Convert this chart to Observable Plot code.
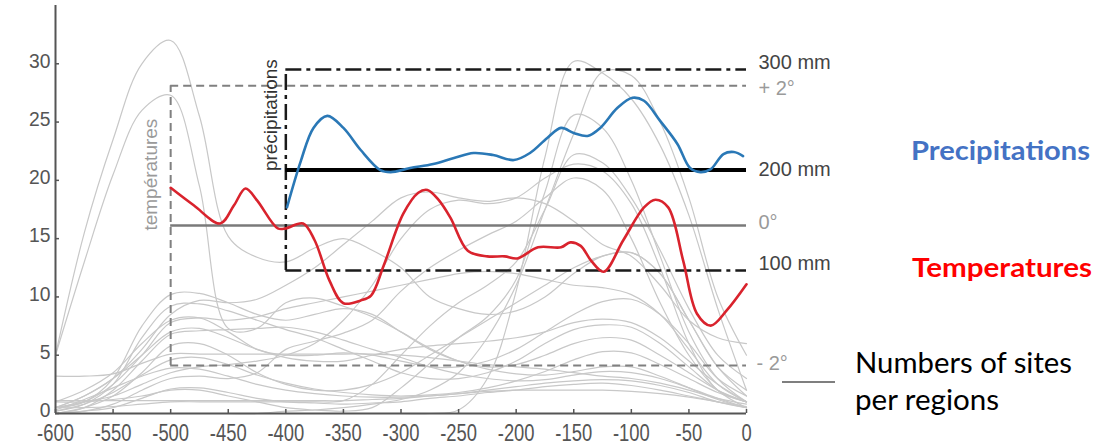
<!DOCTYPE html>
<html>
<head>
<meta charset="utf-8">
<script src="https://cdn.jsdelivr.net/npm/d3@7"></script>
<script src="https://cdn.jsdelivr.net/npm/@observablehq/plot@0.6"></script>
<style>
  body { margin: 0; background: #fff; }
  #wrap { position: relative; width: 1099px; height: 448px; overflow: hidden; }
  #overlay { position: absolute; left: 0; top: 0; pointer-events: none; }
</style>
</head>
<body>
<div id="wrap">
  <div id="chart"></div>
  <svg id="overlay" width="1099" height="448">
    <text x="911" y="160" fill="#4472c4" font-family="Lato, 'Open Sans', sans-serif" font-weight="bold" font-size="26" textLength="179" lengthAdjust="spacingAndGlyphs">Precipitations</text>
    <text x="912" y="277" fill="#ff0000" font-family="Lato, 'Open Sans', sans-serif" font-weight="bold" font-size="26" textLength="180" lengthAdjust="spacingAndGlyphs">Temperatures</text>
    <text x="855" y="373" fill="#000" font-family="Lato, 'Open Sans', sans-serif" font-size="28" textLength="217" lengthAdjust="spacingAndGlyphs">Numbers of sites</text>
    <text x="855" y="410" fill="#000" font-family="Lato, 'Open Sans', sans-serif" font-size="28" textLength="144" lengthAdjust="spacingAndGlyphs">per regions</text>
    <line x1="782" x2="835" y1="382" y2="382" stroke="#000" stroke-width="1.2"></line>
  </svg>
</div>
<script>
// ---------- data ----------
const xTicks = [-600, -550, -500, -450, -400, -350, -300, -250, -200, -150, -100, -50, 0];
const yTicks = [0, 5, 10, 15, 20, 25, 30];

// number of sites per region (grey curves), sampled every 25 years
const siteYears = [-600,-575,-550,-525,-500,-475,-450,-425,-400,-375,-350,-325,-300,-275,-250,-225,-200,-175,-150,-125,-100,-75,-50,-25,0];
const siteCounts = [
  [5, 15.5, 23.5, 30, 32, 25.5, 15.2, 13.4, 13, 14.2, 15, 14, 12.5, 10, 9, 8.5, 8.8, 10, 12, 13.5, 13.8, 12, 8, 4, 2],
  [5, 13, 20.5, 26, 27.3, 19.5, 7.3, 7.3, 9.5, 9.9, 9.2, 8.3, 7, 5.6, 4.5, 3.8, 3.4, 3.3, 3.6, 4, 4, 3.2, 2.2, 1.2, 0.5],
  [0, 0, 0, 0, 0, 0, 0, 0, 0, 0, 0, 0, 0, 0, 0.3, 3, 10.5, 22, 30.2, 29.2, 27, 23, 17, 9, 2],
  [1, 1, 1.2, 1.5, 2, 2, 1.5, 1, 0.5, 0.3, 0.2, 0.5, 2.2, 4.3, 6.5, 8.3, 11.5, 19, 25.6, 24.5, 20, 13.5, 7, 3, 1],
  [0, 0, 0, 0, 0, 0, 0, 0, 0.2, 0.3, 0.5, 0.8, 1.2, 2, 3.5, 6.5, 11, 17.5, 24, 29.3, 29, 25, 18.5, 10, 5],
  [0.5, 0.5, 0.6, 0.8, 1, 1, 1, 1, 1, 1, 1.1, 2.5, 5, 7.5, 9.5, 11, 13, 17.5, 22.2, 21.5, 18.5, 14, 9, 5, 3],
  [0.5, 1, 1.5, 2.5, 3.5, 4, 4.2, 4.5, 5, 6, 8, 11, 15, 17.5, 18.3, 18, 18.5, 20.2, 21.4, 20.8, 18, 12.5, 6, 2, 1],
  [0, 0.2, 0.8, 2, 3, 3.2, 3, 3.5, 5.5, 6.2, 6.9, 8, 10.5, 12.5, 14, 15.3, 16.5, 18.5, 20.2, 19.2, 15, 9.5, 5, 2, 0.5],
  [0.5, 1.5, 3, 5.5, 8.5, 9.7, 9.5, 9.8, 11, 12.5, 14.5, 16.5, 18.5, 19, 18.5, 18.2, 18.5, 18, 16.5, 14.5, 13.5, 11, 8, 6.5, 6],
  [0.5, 1, 2.5, 5, 7.8, 8.2, 8, 8.3, 9, 9.5, 10, 10.5, 11, 11.5, 12, 12.2, 12, 11.5, 11, 10.8, 10.2, 8.5, 5.5, 2.5, 1],
  [0, 0.5, 2, 4.5, 6.8, 7.1, 7.2, 7.3, 7.4, 7, 6.3, 5.5, 4.8, 4, 3.4, 3, 2.8, 2.9, 3.3, 3.6, 3.5, 3, 2.2, 1.3, 0.5],
  [0.5, 1, 3, 7.5, 10.2, 10.3, 9.5, 8.5, 8, 8.5, 9, 8.5, 7, 5.5, 4.5, 4, 4.2, 5, 6, 6.5, 6.3, 5, 3.5, 2, 1],
  [0.2, 0.8, 2.5, 6.5, 9.2, 9.4, 8.8, 8, 7.2, 6.5, 5.5, 4.5, 3.5, 3, 3, 3.5, 4.5, 6, 7.2, 7.6, 7.4, 6, 4, 2, 1],
  [1, 2, 3.5, 6, 8, 8.2, 7, 5.5, 5, 5, 5.2, 5, 4.5, 4, 4, 4.5, 5.5, 7, 8.5, 9.6, 9.8, 8.5, 6, 3, 1.5],
  [0.5, 1.5, 3, 5, 7, 7.3, 6.5, 5.5, 4.8, 4.5, 4.5, 5, 5.5, 5.8, 6, 6.2, 6.5, 7, 7.8, 8.1, 7.8, 6.5, 4.5, 2.5, 1],
  [0, 0.5, 1.5, 3.5, 5.8, 6, 5, 3.5, 2.5, 2, 2, 2.5, 3.5, 5, 6.5, 8, 9.5, 11, 12.5, 13.5, 13.8, 12, 8, 4, 1.5],
  [0.2, 0.8, 1.8, 3.3, 4.6, 4.8, 4.2, 3.3, 2.6, 2.1, 1.8, 1.6, 1.5, 1.6, 1.8, 2.2, 2.8, 3.6, 4.6, 5.3, 5.2, 4.2, 3, 1.8, 1],
  [0.3, 1.2, 2.2, 3.2, 3.9, 3.8, 3.2, 2.5, 2, 1.7, 1.5, 1.4, 1.4, 1.5, 1.7, 2, 2.3, 2.6, 2.8, 2.9, 2.8, 2.4, 1.8, 1, 0.5],
  [3.2, 3.2, 3.4, 4.3, 5.1, 5.1, 5.1, 5.1, 5.1, 5.1, 5.1, 5.1, 5, 4.8, 4.5, 4.2, 4, 3.8, 3.5, 3.2, 3, 2.6, 2, 1.3, 0.8],
  [1.1, 1.1, 1.1, 1.1, 1.1, 1.1, 1.1, 1.1, 1.1, 1.1, 1.1, 1.2, 1.3, 1.5, 1.7, 1.9, 2, 2, 2, 2, 1.9, 1.7, 1.4, 1, 0.6],
  [0, 0.2, 0.5, 1.3, 2.1, 2.2, 1.8, 1.3, 1, 0.9, 0.8, 0.9, 1, 1.3, 1.5, 1.8, 2, 2.3, 2.5, 2.6, 2.4, 2, 1.5, 1, 0.5]
];

// temperature anomaly (°C)
const tempYears = [-500,-480,-457,-445,-435,-425,-407,-400,-385,-375,-362,-350,-335,-326,-315,-298,-285,-277,-267,-257,-242,-225,-210,-199,-181,-161,-153,-144,-135,-124,-107,-89,-79,-68,-55,-43,-31,-17,0];
const tempAnomaly = [0.54,0.29,0.03,0.29,0.53,0.36,-0.04,-0.04,0.03,-0.21,-0.79,-1.11,-1.07,-1.0,-0.57,0.17,0.47,0.51,0.36,0.11,-0.36,-0.44,-0.44,-0.47,-0.31,-0.31,-0.24,-0.29,-0.5,-0.66,-0.21,0.26,0.37,0.26,-0.5,-1.26,-1.43,-1.21,-0.84];

// precipitation (mm)
const precipYears = [-399,-387,-376,-364,-350,-335,-318,-309,-292,-272,-254,-237,-220,-202,-188,-173,-161,-150,-138,-127,-112,-99,-89,-75,-60,-49,-40,-31,-20,-11,-3];
const precipMm = [163,209,242,254,242,220,200,198,202,206,212,217,215,210,217,232,242,237,234,242,262,272,269,249,226,202,198,201,216,218,214];

// secondary scales (reference frames)
const tempFrame = [-2, 0, 2];
const tempFrameLabels = ["- 2°", "0°", "+ 2°"];
const precipFrame = [100, 200, 300];
const precipFrameLabels = ["100 mm", "200 mm", "300 mm"];
const tempFrameStart = -500;
const precipFrameStart = -400;

// mapping of the secondary scales onto the left axis (site counts)
const tempZero = 16.12, tempPerDegree = 6.0;
const precipBase = 12.26, precipPerMm = 0.0862;
const tY = t => tempZero + t * tempPerDegree;
const pY = mm => precipBase + (mm - 100) * precipPerMm;

// ---------- tables ----------
const sites = siteCounts.flatMap((vals, i) => vals.map((n, j) => ({region: i, year: siteYears[j], n})));
const temps = tempYears.map((year, i) => ({year, t: tempAnomaly[i]}));
const precs = precipYears.map((year, i) => ({year, mm: precipMm[i]}));

const font = "'Liberation Sans', Arial, sans-serif";

const chart = Plot.plot({
  width: 1099,
  height: 448,
  marginLeft: 55,
  marginRight: 353,
  marginTop: 5,
  marginBottom: 35,
  style: {fontFamily: font, background: "#fff"},
  x: {domain: [-600, 0]},
  y: {domain: [0, 35]},
  marks: [
    Plot.line(sites, {x: "year", y: "n", z: "region", stroke: "#c8c8c8", strokeWidth: 1.2, curve: "catmull-rom"}),
    // temperature frame
    Plot.ruleY([tempFrame[0], tempFrame[2]], {x1: tempFrameStart, x2: 0, y: tY, stroke: "#808080", strokeWidth: 2, strokeDasharray: "8,5"}),
    Plot.ruleX([tempFrameStart], {y1: tY(tempFrame[0]), y2: tY(tempFrame[2]), stroke: "#808080", strokeWidth: 2, strokeDasharray: "8,5"}),
    Plot.ruleY([tempFrame[1]], {x1: tempFrameStart, x2: 0, y: tY, stroke: "#7a7a7a", strokeWidth: 2.5}),
    // precipitation frame
    Plot.ruleY([precipFrame[0], precipFrame[2]], {x1: precipFrameStart, x2: 0, y: pY, stroke: "#1a1a1a", strokeWidth: 2.5, strokeDasharray: "16,5,4,5"}),
    Plot.ruleX([precipFrameStart], {y1: pY(precipFrame[0]), y2: pY(precipFrame[2]), stroke: "#1a1a1a", strokeWidth: 2.5, strokeDasharray: "16,5,4,5"}),
    Plot.ruleY([precipFrame[1]], {x1: precipFrameStart, x2: 0, y: pY, stroke: "#000", strokeWidth: 4}),
    // series
    Plot.line(temps, {x: "year", y: d => tY(d.t), stroke: "#d9232d", strokeWidth: 2.6, curve: "catmull-rom"}),
    Plot.line(precs, {x: "year", y: d => pY(d.mm), stroke: "#2a78b6", strokeWidth: 2.6, curve: "catmull-rom"}),
    // axes
    Plot.ruleX([-600], {y1: 0, y2: 35, stroke: "#555", strokeWidth: 2}),
    Plot.ruleY([0], {x1: -600, x2: 0, stroke: "#555", strokeWidth: 2}),
    Plot.axisX(xTicks, {label: null, tickSize: -4, tickFormat: d => String(d), fontSize: 23, fill: "#555", stroke: "#555", tickPadding: 15, strokeWidth: 1.5}),
    Plot.axisY(yTicks, {label: null, tickSize: -4, tickFormat: d => String(d), fontSize: 21, fill: "#555", stroke: "#555", tickPadding: 9, strokeWidth: 1.5}),
    // right-hand frame labels
    Plot.text([precipFrame[2], precipFrame[0]], {x: 0, y: pY, text: d => precipFrameLabels[precipFrame.indexOf(d)], dx: 12, dy: -7, textAnchor: "start", fontSize: 20, fill: "#444"}),
    Plot.text([precipFrame[1]], {x: 0, y: pY, text: d => precipFrameLabels[precipFrame.indexOf(d)], dx: 12, dy: -1, textAnchor: "start", fontSize: 20, fill: "#444"}),
    Plot.text([tempFrame[2]], {x: 0, y: tY, text: d => tempFrameLabels[tempFrame.indexOf(d)], dx: 12, dy: 3, textAnchor: "start", fontSize: 20, fill: "#9a9a9a"}),
    Plot.text([tempFrame[1]], {x: 0, y: tY, text: d => tempFrameLabels[tempFrame.indexOf(d)], dx: 12, dy: -3, textAnchor: "start", fontSize: 20, fill: "#9a9a9a"}),
    Plot.text([tempFrame[0]], {x: 0, y: tY, text: d => tempFrameLabels[tempFrame.indexOf(d)], dx: 10, dy: -2, textAnchor: "start", fontSize: 20, fill: "#9a9a9a"}),
    // rotated frame titles
    Plot.text(["températures"], {x: tempFrameStart, y: tY(0), text: d => d, rotate: -90, textAnchor: "start", dx: -20, dy: 5, fontSize: 19, fill: "#9a9a9a"}),
    Plot.text(["précipitations"], {x: precipFrameStart, y: pY(200), text: d => d, rotate: -90, textAnchor: "start", dx: -15, dy: 1, fontSize: 19, fill: "#333"})
  ]
});
// condense the tick labels to match the narrow typeface of the original
d3.select(chart).selectAll("g[aria-label='x-axis tick label'] text").each(function () {
  const t = this.getAttribute("transform") || "";
  this.setAttribute("transform", t + " scale(0.8,1)");
});
d3.select(chart).selectAll("g[aria-label='y-axis tick label'] text").each(function () {
  const t = this.getAttribute("transform") || "";
  this.setAttribute("transform", t + " translate(0,-3) scale(0.92,1)");
});
document.getElementById("chart").appendChild(chart);
</script>
</body>
</html>
